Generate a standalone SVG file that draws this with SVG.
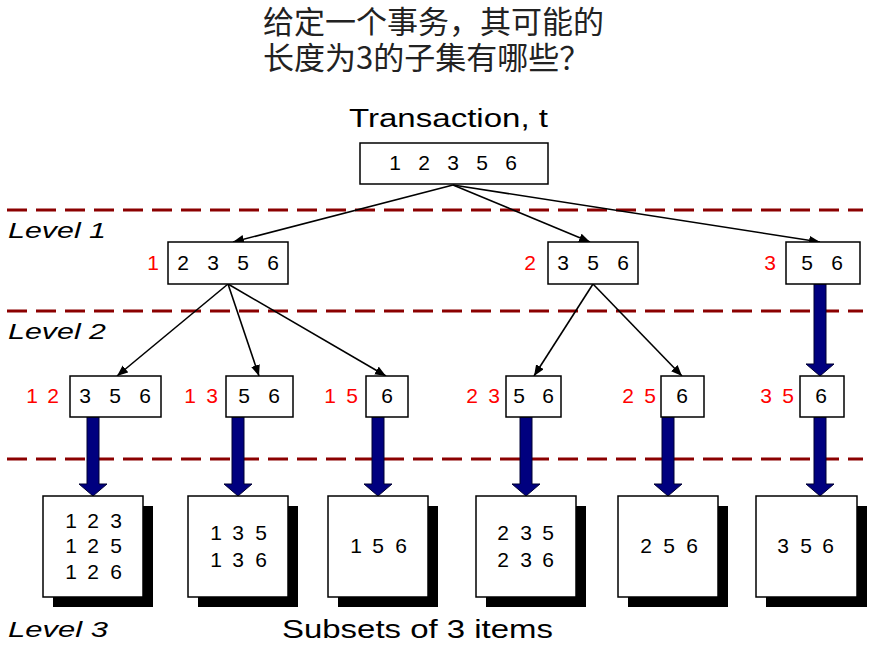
<svg xmlns="http://www.w3.org/2000/svg" width="875" height="649" viewBox="0 0 875 649">
<defs>
<style>
.t{font-family:"Liberation Sans",Arial,sans-serif;fill:#000}
.d{font-size:21px;text-anchor:middle}
.r{fill:#FF0000}
.lv{font-size:22px;font-style:italic}
.box{fill:#fff;stroke:#000;stroke-width:1.5}
.sh{fill:#000}
.dash{stroke:#8B0000;stroke-width:3;stroke-dasharray:20 9;fill:none}
.thin{stroke:#000;stroke-width:1.6;fill:none;marker-end:url(#ah)}
.thick{fill:#00007F;stroke:#000033;stroke-width:1}
.cjk{font-family:"Noto Sans CJK SC",sans-serif;font-size:31px;fill:#222}
</style>
<marker id="ah" markerUnits="userSpaceOnUse" markerWidth="12" markerHeight="10" refX="11" refY="4.5" orient="auto">
<path d="M0,0 L11,4.5 L0,9 z" fill="#000"/>
</marker>
</defs>
<rect width="875" height="649" fill="#fff"/>

<g id="title">
<text class="cjk" x="263" y="33" textLength="341" lengthAdjust="spacingAndGlyphs">给定一个事务，其可能的</text>
<text class="cjk" x="263" y="69">长度为3的子集有哪些？</text>
</g>

<g id="levels">
<line class="dash" x1="7" y1="210" x2="863" y2="210"/>
<line class="dash" x1="7" y1="311" x2="863" y2="311"/>
<line class="dash" x1="7" y1="459" x2="863" y2="459"/>
<text class="t lv" x="8" y="238" textLength="98" lengthAdjust="spacingAndGlyphs">Level 1</text>
<text class="t lv" x="8" y="339" textLength="98" lengthAdjust="spacingAndGlyphs">Level 2</text>
<text class="t lv" x="8" y="637" textLength="100" lengthAdjust="spacingAndGlyphs">Level 3</text>
<text class="t" x="282" y="638" font-size="25" textLength="271" lengthAdjust="spacingAndGlyphs">Subsets of 3 items</text>
</g>

<g id="connectors">
<line class="thin" x1="453" y1="185" x2="233" y2="242"/>
<line class="thin" x1="453" y1="185" x2="590" y2="242"/>
<line class="thin" x1="453" y1="185" x2="820" y2="242"/>
<line class="thin" x1="228" y1="284" x2="117" y2="376"/>
<line class="thin" x1="228" y1="284" x2="259" y2="376"/>
<line class="thin" x1="228" y1="284" x2="386" y2="376"/>
<line class="thin" x1="593" y1="284" x2="534" y2="376"/>
<line class="thin" x1="593" y1="284" x2="682" y2="376"/>
<polygon class="thick" points="814,284 826,284 826,364 834,364 820,376 806,364 814,364"/>
<polygon class="thick" points="87,417 99,417 99,484 107,484 93,496 79,484 87,484"/>
<polygon class="thick" points="232,417 244,417 244,484 252,484 238,496 224,484 232,484"/>
<polygon class="thick" points="372,417 384,417 384,484 392,484 378,496 364,484 372,484"/>
<polygon class="thick" points="520,417 532,417 532,484 540,484 526,496 512,484 520,484"/>
<polygon class="thick" points="662,417 674,417 674,484 682,484 668,496 654,484 662,484"/>
<polygon class="thick" points="814,417 826,417 826,484 834,484 820,496 806,484 814,484"/>
</g>

<g id="transaction">
<text class="t" x="349" y="127" font-size="26" textLength="199" lengthAdjust="spacingAndGlyphs">Transaction, t</text>
<rect class="box" x="360" y="143" width="188" height="41"/>
<text class="t d" x="395 424 453 482 511" y="170">12356</text>
</g>

<g id="l1a">
<rect class="box" x="168" y="242" width="120" height="42"/>
<text class="t d r" x="153" y="270">1</text>
<text class="t d" x="183 213 243 273" y="270">2356</text>
</g>
<g id="l1b">
<rect class="box" x="548" y="242" width="90" height="42"/>
<text class="t d r" x="530" y="270">2</text>
<text class="t d" x="563 593 623" y="270">356</text>
</g>
<g id="l1c">
<rect class="box" x="786" y="242" width="74" height="42"/>
<text class="t d r" x="770" y="270">3</text>
<text class="t d" x="807 837" y="270">56</text>
</g>

<g id="l2a">
<rect class="box" x="70" y="376" width="91" height="41"/>
<text class="t d r" x="32 53" y="403">12</text>
<text class="t d" x="85 115 145" y="403">356</text>
</g>
<g id="l2b">
<rect class="box" x="226" y="376" width="67" height="41"/>
<text class="t d r" x="190 212" y="403">13</text>
<text class="t d" x="244 274" y="403">56</text>
</g>
<g id="l2c">
<rect class="box" x="366" y="376" width="42" height="41"/>
<text class="t d r" x="330 352" y="403">15</text>
<text class="t d" x="387" y="403">6</text>
</g>
<g id="l2d">
<rect class="box" x="506" y="376" width="55" height="41"/>
<text class="t d r" x="472 494" y="403">23</text>
<text class="t d" x="519 548" y="403">56</text>
</g>
<g id="l2e">
<rect class="box" x="661" y="376" width="43" height="41"/>
<text class="t d r" x="628 650" y="403">25</text>
<text class="t d" x="682" y="403">6</text>
</g>
<g id="l2f">
<rect class="box" x="800" y="376" width="44" height="41"/>
<text class="t d r" x="766 788" y="403">35</text>
<text class="t d" x="821" y="403">6</text>
</g>

<g id="l3a">
<rect class="sh" x="53" y="506" width="100" height="101"/>
<rect class="box" x="43" y="496" width="100" height="101"/>
<text class="t d" x="71 93 116" y="528">123</text>
<text class="t d" x="71 93 116" y="553">125</text>
<text class="t d" x="71 93 116" y="579">126</text>
</g>
<g id="l3b">
<rect class="sh" x="198" y="506" width="100" height="101"/>
<rect class="box" x="188" y="496" width="100" height="101"/>
<text class="t d" x="216 238 261" y="540">135</text>
<text class="t d" x="216 238 261" y="567">136</text>
</g>
<g id="l3c">
<rect class="sh" x="338" y="506" width="100" height="101"/>
<rect class="box" x="328" y="496" width="100" height="101"/>
<text class="t d" x="356 378 401" y="553">156</text>
</g>
<g id="l3d">
<rect class="sh" x="486" y="506" width="100" height="101"/>
<rect class="box" x="476" y="496" width="100" height="101"/>
<text class="t d" x="503 526 548" y="540">235</text>
<text class="t d" x="503 526 548" y="567">236</text>
</g>
<g id="l3e">
<rect class="sh" x="628" y="506" width="100" height="101"/>
<rect class="box" x="618" y="496" width="100" height="101"/>
<text class="t d" x="646 669 692" y="553">256</text>
</g>
<g id="l3f">
<rect class="sh" x="766" y="506" width="101" height="101"/>
<rect class="box" x="756" y="496" width="101" height="101"/>
<text class="t d" x="783 806 828" y="553">356</text>
</g>
</svg>
